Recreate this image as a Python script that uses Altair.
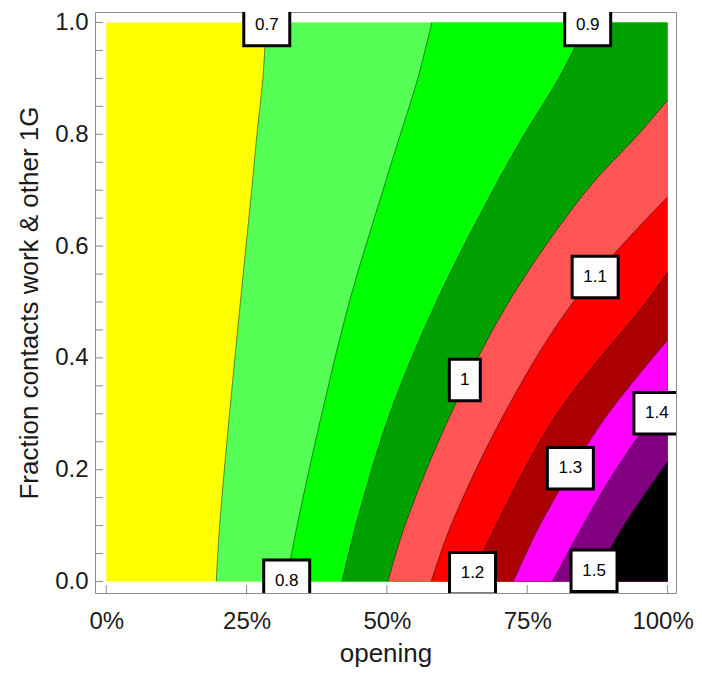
import altair as alt
import pandas as pd

# contour levels and band colours (region above each level)
levels = ["0.7", "0.8", "0.9", "1", "1.1", "1.2", "1.3", "1.4", "1.5"]
fill_colors = ["#55FF55", "#00FF00", "#00A000", "#FF5555", "#FF0000",
               "#AA0000", "#FF00FF", "#800080", "#000000"]
base_color = "#FFFF00"

# contour boundaries: fraction (y) -> opening (x)
b07_frac = [0.0, 0.1, 0.3, 0.5, 0.7, 0.8, 0.9, 1.0]
b07_open = [0.196, 0.202, 0.2196, 0.239, 0.259, 0.2685, 0.279, 0.285]
b08_frac = [0.0, 0.1, 0.3, 0.5, 0.7, 0.8, 0.9, 1.0]
b08_open = [0.321, 0.340, 0.384, 0.433, 0.493, 0.524, 0.555, 0.580]
b09_frac = [0.0, 0.1, 0.3, 0.5, 0.7, 0.8, 0.9, 1.0]
b09_open = [0.420, 0.4445, 0.505, 0.588, 0.689, 0.745, 0.806, 0.857]
b10_frac = [0.0, 0.1, 0.3, 0.5, 0.7, 0.8, 0.861]
b10_open = [0.502, 0.532, 0.614, 0.717, 0.856, 0.948, 1.0]
b11_frac = [0.0, 0.1, 0.3, 0.5, 0.688]
b11_open = [0.579, 0.614, 0.709, 0.832, 1.0]
b12_frac = [0.0, 0.1, 0.3, 0.5, 0.553]
b12_open = [0.648, 0.694, 0.803, 0.962, 1.0]
b13_frac = [0.0, 0.1, 0.2, 0.3, 0.432]
b13_open = [0.725, 0.772, 0.829, 0.894, 1.0]
b14_frac = [0.0, 0.1, 0.2, 0.3, 0.31]
b14_open = [0.795, 0.849, 0.908, 0.981, 1.0]
b15_frac = [0.0, 0.1, 0.214]
b15_open = [0.866, 0.922, 1.0]

boundaries = [(b07_frac, b07_open), (b08_frac, b08_open), (b09_frac, b09_open),
              (b10_frac, b10_open), (b11_frac, b11_open), (b12_frac, b12_open),
              (b13_frac, b13_open), (b14_frac, b14_open), (b15_frac, b15_open)]

# contour labels
label_text = ["0.7", "0.8", "0.9", "1", "1.1", "1.2", "1.3", "1.4", "1.5"]
label_open = [0.286, 0.3215, 0.8577, 0.6388, 0.871, 0.6525, 0.8268, 0.981, 0.869]
label_frac = [0.9955, 0.001, 0.9955, 0.3605, 0.5447, 0.0147, 0.2025, 0.301, 0.0193]

# axis ticks
x_ticks = [0.0, 0.25, 0.5, 0.75, 1.0]
y_ticks = [0.0, 0.2, 0.4, 0.6, 0.8, 1.0]
y_minor = [0.0, 0.05, 0.1, 0.15, 0.2, 0.25, 0.3, 0.35, 0.4, 0.45, 0.5,
           0.55, 0.6, 0.65, 0.7, 0.75, 0.8, 0.85, 0.9, 0.95, 1.0]

FONT = "Liberation Sans"
TXT = "#1a1a1a"
FRAME = "#8c8c8c"
CURVE = "catmull-rom"

xs = alt.Scale(domain=[-0.02, 1.015], nice=False, zero=False)
ys = alt.Scale(domain=[-0.0206, 1.0188], nice=False, zero=False)

x_axis = alt.Axis(values=x_ticks, format=".0%", title="opening", grid=False,
                  domain=False, ticks=False, labelFontSize=24, titleFontSize=26,
                  labelFont=FONT, titleFont=FONT, labelColor=TXT, titleColor=TXT,
                  labelPadding=16, titlePadding=7, titleFontWeight="normal",
                  labelFlush=False,
                  labelOffset={"condition": {"test": "datum.value >= 1", "value": -5},
                               "value": 0})
y_axis = alt.Axis(values=y_ticks, format=".1f", title="Fraction contacts work & other 1G",
                  grid=False, domain=False, ticks=False, labelFontSize=24,
                  titleFontSize=26, labelFont=FONT, titleFont=FONT, labelColor=TXT,
                  titleColor=TXT, labelPadding=7, titlePadding=12,
                  titleFontWeight="normal", labelFlush=False)

bg_df = pd.DataFrame({"x0": [0.0], "x1": [1.0], "y0": [0.0], "y1": [1.0]})
bg = alt.Chart(bg_df).mark_rect(color=base_color).encode(
    x=alt.X("x0:Q", scale=xs, axis=x_axis),
    x2="x1:Q",
    y=alt.Y("y0:Q", scale=ys, axis=y_axis),
    y2="y1:Q",
)

layers = [bg]
rows = []
for lev, col, (fr, op) in zip(levels, fill_colors, boundaries):
    d = pd.DataFrame({"frac": fr, "open": op, "edge": [1.0] * len(fr)})
    layers.append(
        alt.Chart(d).mark_area(orient="horizontal", color=col, opacity=1,
                               interpolate=CURVE, clip=True).encode(
            y=alt.Y("frac:Q", scale=ys),
            x=alt.X("open:Q", scale=xs, stack=None),
            x2="edge:Q",
        )
    )
    for i, (f, o) in enumerate(zip(fr, op)):
        rows.append({"level": lev, "i": i, "frac": f, "open": o})

lines_df = pd.DataFrame(rows)
lines = alt.Chart(lines_df).mark_line(color="black", opacity=0.45, strokeWidth=1,
                                      interpolate=CURVE, clip=True).encode(
    x=alt.X("open:Q", scale=xs),
    y=alt.Y("frac:Q", scale=ys),
    detail="level:N",
    order="i:Q",
)
layers.append(lines)

# ticks drawn inward from the frame
ytick_df = pd.DataFrame({"v": y_minor})
yticks = alt.Chart(ytick_df).mark_rule(color=FRAME, strokeWidth=1).encode(
    y=alt.Y("v:Q", scale=ys), x=alt.value(0), x2=alt.value(8))
xtick_df = pd.DataFrame({"v": x_ticks})
xticks = alt.Chart(xtick_df).mark_rule(color=FRAME, strokeWidth=1).encode(
    x=alt.X("v:Q", scale=xs), y=alt.value(581), y2=alt.value(573))
layers += [yticks, xticks]

# label boxes
def box_path(half_w, half_h):
    return f"M{-half_w},{-half_h}L{half_w},{-half_h}L{half_w},{half_h}L{-half_w},{half_h}Z"

box_paths = [box_path(0.674 if t == "1" else 1.0, 0.905) for t in label_text]
lab_df = pd.DataFrame({"t": label_text, "open": label_open, "frac": label_frac})
boxes = alt.Chart(lab_df).mark_point(
    filled=True, fill="white", stroke="black", strokeWidth=3, opacity=1,
    fillOpacity=1, strokeOpacity=1, clip=True
).encode(
    x=alt.X("open:Q", scale=xs),
    y=alt.Y("frac:Q", scale=ys),
    shape=alt.Shape("t:N", scale=alt.Scale(domain=label_text, range=box_paths), legend=None),
    size=alt.value(2116),
)
texts = alt.Chart(lab_df).mark_text(fontSize=17, font=FONT, color="black", clip=True).encode(
    x=alt.X("open:Q", scale=xs),
    y=alt.Y("frac:Q", scale=ys),
    text="t:N",
)
layers += [boxes, texts]

chart = alt.layer(*layers).properties(
    width=581, height=581,
    autosize=alt.AutoSizeParams(type="none"),
    padding={"left": 87, "top": 4, "right": 18, "bottom": 74},
).configure_view(stroke=FRAME, strokeWidth=1)

chart.save("out.html", embed_options={"renderer": "svg", "actions": False})
